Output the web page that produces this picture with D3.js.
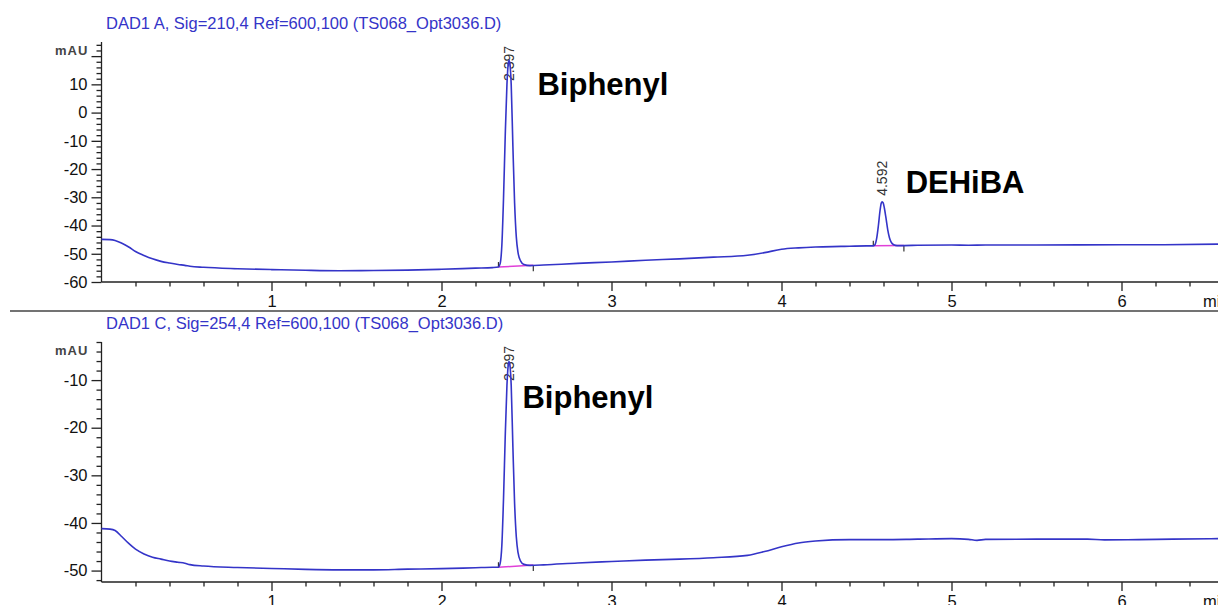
<!DOCTYPE html>
<html>
<head>
<meta charset="utf-8">
<script src="https://cdn.jsdelivr.net/npm/d3@7"></script>
<style>
  body { margin: 0; background: #fff; }
  svg { display: block; }
  text { font-family: Arial, "Liberation Sans", sans-serif; }
</style>
</head>
<body>
<svg id="chart" width="1218" height="605"></svg>
<script>
// ---- Chromatogram data: [retention time (min), absorbance (mAU)] ----
const titleA = "DAD1 A, Sig=210,4 Ref=600,100 (TS068_Opt3036.D)";
const titleC = "DAD1 C, Sig=254,4 Ref=600,100 (TS068_Opt3036.D)";

const signalA = [
  [0.00, -44.9], [0.05, -45.0], [0.08, -45.3], [0.12, -46.3], [0.16, -47.6],
  [0.20, -49.2], [0.25, -50.6], [0.30, -51.8], [0.35, -52.7], [0.40, -53.3],
  [0.45, -53.8], [0.49, -54.1], [0.52, -54.4], [0.60, -54.8], [0.80, -55.3],
  [1.00, -55.6], [1.20, -55.85], [1.40, -56.0], [1.60, -55.95], [1.80, -55.8],
  [2.00, -55.5], [2.20, -55.1], [2.30, -54.9], [2.335, -54.7], [2.345, -53.5],
  [2.355, -47.0], [2.365, -30.0], [2.375, -8.0], [2.385, 10.0], [2.392, 17.0],
  [2.397, 18.5], [2.402, 17.5], [2.410, 10.0], [2.420, -12.0], [2.430, -32.0],
  [2.440, -44.0], [2.450, -49.5], [2.465, -52.5], [2.485, -53.8], [2.52, -54.2],
  [2.60, -54.0], [2.80, -53.4], [3.00, -52.9], [3.20, -52.3], [3.40, -51.8],
  [3.60, -51.2], [3.80, -50.5], [3.90, -49.6], [4.00, -48.4], [4.10, -47.9],
  [4.20, -47.6], [4.35, -47.4], [4.50, -47.2], [4.540, -47.2], [4.550, -46.8],
  [4.560, -44.5], [4.570, -40.0], [4.580, -34.5], [4.587, -32.0], [4.592, -31.6],
  [4.598, -32.0], [4.605, -33.8], [4.615, -37.5], [4.625, -41.5], [4.635, -44.3],
  [4.645, -45.9], [4.660, -46.8], [4.680, -47.1], [4.720, -47.1], [4.80, -47.0],
  [5.00, -46.9], [5.10, -47.0], [5.20, -46.9], [5.50, -46.9], [6.00, -46.8],
  [6.20, -46.8], [6.57, -46.6]
];

const signalC = [
  [0.00, -41.2], [0.05, -41.3], [0.08, -41.6], [0.12, -42.9], [0.16, -44.3],
  [0.20, -45.5], [0.25, -46.5], [0.30, -47.2], [0.35, -47.6], [0.40, -48.0],
  [0.45, -48.25], [0.49, -48.45], [0.52, -48.75], [0.60, -49.05], [0.80, -49.35],
  [1.00, -49.55], [1.20, -49.75], [1.40, -49.85], [1.60, -49.85], [1.80, -49.7],
  [2.00, -49.6], [2.20, -49.4], [2.30, -49.3], [2.335, -49.3], [2.345, -48.5],
  [2.355, -44.7], [2.365, -34.7], [2.375, -21.7], [2.385, -11.1], [2.392, -7.0],
  [2.397, -6.1], [2.402, -6.7], [2.410, -11.1], [2.420, -24.1], [2.430, -35.9],
  [2.440, -42.9], [2.450, -46.2], [2.465, -48.0], [2.485, -48.7], [2.52, -48.9],
  [2.60, -48.8], [2.80, -48.4], [3.00, -48.1], [3.20, -47.8], [3.40, -47.6],
  [3.60, -47.3], [3.80, -46.8], [3.90, -46.0], [4.00, -45.0], [4.10, -44.2],
  [4.20, -43.8], [4.40, -43.5], [4.60, -43.5], [4.80, -43.4], [5.00, -43.3],
  [5.10, -43.45], [5.15, -43.65], [5.20, -43.45], [5.50, -43.4], [5.80, -43.4],
  [5.90, -43.55], [6.10, -43.5], [6.30, -43.4], [6.57, -43.3]
];

// integrated peaks: retention times, compound names and baseline segments
const peakTimesA = [2.397, 4.592];
const compoundsA = ["Biphenyl", "DEHiBA"];
const baselinesA = [
  [[2.335, -54.7], [2.54, -54.1]],
  [[4.540, -47.2], [4.72, -47.1]]
];

const peakTimesC = [2.397];
const compoundsC = ["Biphenyl"];
const baselinesC = [
  [[2.335, -49.3], [2.54, -48.85]]
];

const xTickLabels = [1, 2, 3, 4, 5, 6];
const yTickLabelsA = [-60, -50, -40, -30, -20, -10, 0, 10];
const yTickLabelsC = [-50, -40, -30, -20, -10];

// ---- layout ----
const W = 1218;
const traceColor = "#3434c8";
const baseColor = "#e040d8";
const svg = d3.select("#chart");

const x = d3.scaleLinear().domain([0, 6.57]).range([101.5, 101.5 + 6.57 * 170]);

const panels = [
  { title: titleA, data: signalA, peaks: peakTimesA, names: compoundsA, bases: baselinesA,
    yTicks: yTickLabelsA, domain: [-60, 25], top: 42, bottom: 282,
    nameOffsets: [[28.5, 34.5], [23.5, -8.5]] },
  { title: titleC, data: signalC, peaks: peakTimesC, names: compoundsC, bases: baselinesC,
    yTicks: yTickLabelsC, domain: [-52.4, -2], top: 342, bottom: 582,
    nameOffsets: [[13.5, 46.5]] }
];

panels.forEach((p, pi) => {
  const g = svg.append("g");
  const y = d3.scaleLinear().domain(p.domain).range([p.bottom, p.top]);

  // title
  g.append("text")
    .attr("x", 106).attr("y", p.top - 13)
    .attr("fill", traceColor).attr("font-size", 16.5)
    .text(p.title);

  // y axis: minor ticks every 2 mAU, labelled majors every 10
  const minorY = d3.range(Math.ceil(p.domain[0] / 2) * 2, p.domain[1] + 0.001, 2)
    .filter(v => v % 10 !== 0);
  g.append("g").attr("transform", `translate(${x(0)},0)`)
    .call(d3.axisLeft(y).tickValues(minorY).tickSize(5).tickSizeOuter(0).tickFormat(""))
    .call(a => a.select(".domain").remove())
    .selectAll("line").attr("stroke", "#222").attr("stroke-width", 1.3);
  const majorY = d3.range(Math.ceil(p.domain[0] / 10) * 10, p.domain[1] + 0.001, 10);
  const yAxis = g.append("g").attr("transform", `translate(${x(0)},0)`)
    .call(d3.axisLeft(y).tickValues(majorY).tickSize(10).tickSizeOuter(0).tickPadding(4)
      .tickFormat(v => p.yTicks.includes(v) ? String(v) : ""));
  yAxis.select(".domain").attr("d", `M0,${p.top}V${p.bottom}`);
  yAxis.selectAll("text").attr("font-size", 16.5).attr("fill", "#111");
  yAxis.selectAll("path,line").attr("stroke", "#222").attr("stroke-width", 1.3);

  g.append("text")
    .attr("x", 55).attr("y", p.top + 13)
    .attr("font-size", 13).attr("font-weight", "bold").attr("letter-spacing", 1)
    .attr("fill", "#444")
    .text("mAU");

  // x axis
  const minorX = d3.range(1, 33).map(i => i * 0.2).filter(v => Math.abs(v - Math.round(v)) > 1e-6);
  g.append("g").attr("transform", `translate(0,${p.bottom})`)
    .call(d3.axisBottom(x).tickValues(minorX).tickSize(4.5).tickSizeOuter(0).tickFormat(""))
    .call(a => a.select(".domain").remove())
    .selectAll("line").attr("stroke", "#222").attr("stroke-width", 1.3);
  const xAxis = g.append("g").attr("transform", `translate(0,${p.bottom})`)
    .call(d3.axisBottom(x).tickValues(xTickLabels).tickSize(9).tickSizeOuter(0).tickPadding(4)
      .tickFormat(String));
  xAxis.select(".domain").attr("d", `M${x(0)},0H${W}`);
  xAxis.selectAll("text").attr("font-size", 16.5).attr("fill", "#111");
  xAxis.selectAll("path,line").attr("stroke", "#222").attr("stroke-width", 1.3);
  g.append("text")
    .attr("x", 1203).attr("y", p.bottom + 13).attr("dy", "0.71em")
    .attr("font-size", 16.5).attr("fill", "#111")
    .text("min");

  // retention time labels (kept below the plot top)
  p.peaks.forEach((rt, i) => {
    const apex = p.data.find(d => d[0] === rt);
    const ay = y(apex[1]);
    const ly = Math.max(ay - 6, p.top + 39);
    g.append("text")
      .attr("transform", `translate(${x(rt) + 5},${ly}) rotate(-90)`)
      .attr("font-size", 14).attr("fill", "#333")
      .text(rt.toFixed(3));
    const off = p.nameOffsets[i];
    g.append("text")
      .attr("x", x(rt) + off[0]).attr("y", ay + off[1])
      .attr("font-size", 31).attr("font-weight", "bold").attr("fill", "#000")
      .text(p.names[i]);
  });

  // integration baselines with start/end marks
  p.bases.forEach(seg => {
    g.append("line")
      .attr("x1", x(seg[0][0])).attr("y1", y(seg[0][1]))
      .attr("x2", x(seg[1][0])).attr("y2", y(seg[1][1]))
      .attr("stroke", baseColor).attr("stroke-width", 1.5);
    g.append("line")
      .attr("x1", x(seg[0][0])).attr("y1", y(seg[0][1]))
      .attr("x2", x(seg[0][0])).attr("y2", y(seg[0][1]) - 5)
      .attr("stroke", "#333").attr("stroke-width", 1.2);
    g.append("line")
      .attr("x1", x(seg[1][0])).attr("y1", y(seg[1][1]))
      .attr("x2", x(seg[1][0])).attr("y2", y(seg[1][1]) + 6)
      .attr("stroke", "#333").attr("stroke-width", 1.2);
  });

  // signal trace
  const line = d3.line().x(d => x(d[0])).y(d => y(d[1])).curve(d3.curveMonotoneX);
  g.append("path")
    .datum(p.data)
    .attr("d", line)
    .attr("fill", "none")
    .attr("stroke", traceColor)
    .attr("stroke-width", 1.6)
    .attr("stroke-linejoin", "round");
});

// divider between the two signal panels
svg.append("line")
  .attr("x1", 10).attr("x2", W).attr("y1", 311).attr("y2", 311)
  .attr("stroke", "#444").attr("stroke-width", 1.5);
</script>
</body>
</html>
